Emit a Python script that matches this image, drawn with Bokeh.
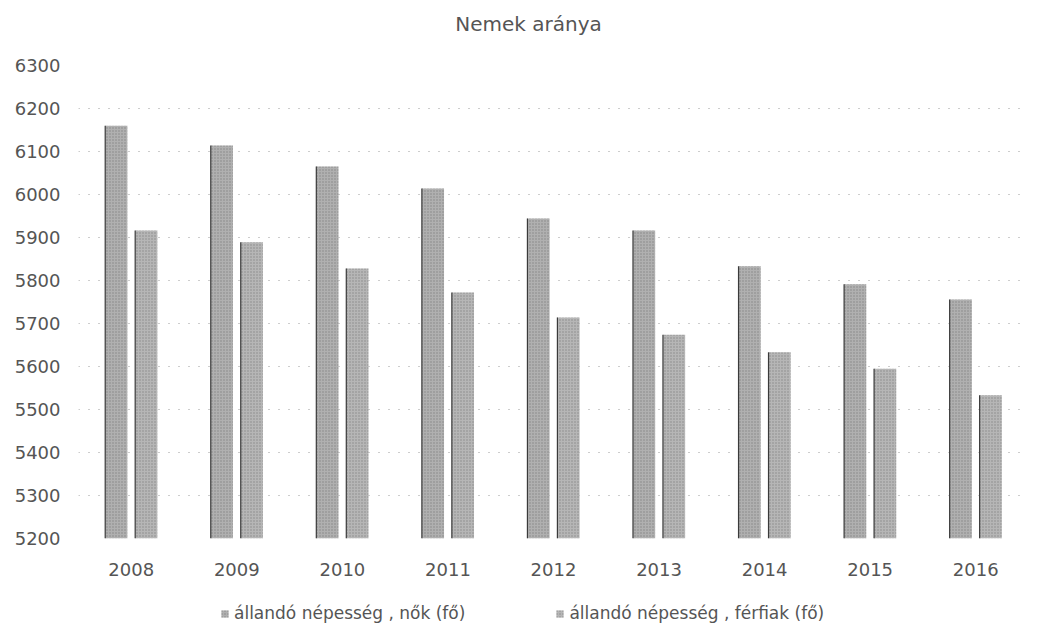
from bokeh.plotting import figure
from bokeh.models import ColumnDataSource, Legend, LegendItem, FixedTicker, Range1d, Label
from bokeh.layouts import column
from bokeh.transform import dodge
from bokeh.embed import file_html
from bokeh.resources import INLINE

years = ["2008", "2009", "2010", "2011", "2012", "2013", "2014", "2015", "2016"]
nok = [6160, 6114, 6065, 6014, 5944, 5916, 5833, 5791, 5756]
ferfiak = [5916, 5889, 5828, 5772, 5714, 5674, 5633, 5595, 5533]
y_ticks = [5200, 5300, 5400, 5500, 5600, 5700, 5800, 5900, 6000, 6100, 6200, 6300]
title_text = "Nemek aránya"
label_nok = "állandó népesség , nők (fő)"
label_ferfiak = "állandó népesség , férfiak (fő)"

src = ColumnDataSource(dict(year=years, nok=nok, ferfiak=ferfiak))

FONT = "DejaVu Sans"
TXT = "#555555"
BAR_STYLE = dict(line_color=None, hatch_pattern="dot", hatch_color="#5a5a5a",
                 hatch_scale=3, hatch_weight=1, hatch_alpha=0.5)

W = 1045
H_TITLE = 45
H_MAIN = 541
H_LEG = 46


def strip(h):
    f = figure(width=W, height=h, x_range=Range1d(0, W), y_range=Range1d(0, h),
               output_backend="svg", toolbar_location=None,
               x_axis_location=None, y_axis_location=None,
               min_border_left=0, min_border_right=0, min_border_top=0, min_border_bottom=0)
    f.grid.visible = False
    f.outline_line_color = None
    return f


# ---- title strip
t = strip(H_TITLE)
t.add_layout(Label(x=495, y=H_TITLE - 23, text=title_text, text_align="center", text_baseline="middle",
                   text_font=FONT, text_font_size="20px", text_color=TXT))

# ---- main chart
p = figure(x_range=years, y_range=(y_ticks[0], y_ticks[-1]), width=W, height=H_MAIN,
           output_backend="svg", toolbar_location=None,
           min_border_left=78, min_border_right=17, min_border_top=20, min_border_bottom=48)

bar_w = 0.21
off = 0.142
p.vbar(x=dodge("year", -off, range=p.x_range), top="nok", bottom=y_ticks[0], width=bar_w,
       source=src, fill_color="#b0b0b0", **BAR_STYLE)
p.vbar(x=dodge("year", off, range=p.x_range), top="ferfiak", bottom=y_ticks[0], width=bar_w,
       source=src, fill_color="#b6b6b6", **BAR_STYLE)

# darker left edges of bars
p.segment(x0=dodge("year", -off - bar_w / 2, range=p.x_range), x1=dodge("year", -off - bar_w / 2, range=p.x_range),
          y0=y_ticks[0], y1="nok", source=src, line_color="#3a3a3a", line_width=1.2)
p.segment(x0=dodge("year", off - bar_w / 2, range=p.x_range), x1=dodge("year", off - bar_w / 2, range=p.x_range),
          y0=y_ticks[0], y1="ferfiak", source=src, line_color="#3a3a3a", line_width=1.2)

p.yaxis.ticker = FixedTicker(ticks=y_ticks)
for ax in (p.xaxis, p.yaxis):
    ax.axis_line_color = None
    ax.major_tick_line_color = None
    ax.minor_tick_line_color = None
    ax.major_tick_out = 0
    ax.major_tick_in = 0
    ax.minor_tick_out = 0
    ax.major_label_text_font = FONT
    ax.major_label_text_font_size = "18px"
    ax.major_label_text_color = TXT
p.yaxis.major_label_standoff = 18
p.xaxis.major_label_standoff = 24

p.xgrid.grid_line_color = None
p.ygrid.grid_line_color = "#9a9a9a"
p.ygrid.grid_line_dash = "1 9"
p.ygrid.grid_line_width = 1
p.outline_line_color = None
p.x_range.range_padding = 0

# ---- legend strip
q = strip(H_LEG)
g1 = q.vbar(x=0, top=0, width=0, source=src, fill_color="#b0b0b0", **BAR_STYLE)
g2 = q.vbar(x=0, top=0, width=0, source=src, fill_color="#b6b6b6", **BAR_STYLE)

legend = Legend(items=[LegendItem(label=label_nok, renderers=[g1]),
                       LegendItem(label=label_ferfiak, renderers=[g2])],
                orientation="horizontal", location=(142, 9))
legend.label_text_font = FONT
legend.label_text_font_size = "17px"
legend.label_text_color = TXT
legend.glyph_width = 9
legend.glyph_height = 9
legend.label_standoff = 5
legend.label_height = 18
legend.spacing = 90
legend.padding = 0
legend.margin = 0
legend.border_line_color = None
legend.background_fill_alpha = 0
q.add_layout(legend)

layout = column(t, p, q, spacing=0)
open("out.html", "w").write(file_html(layout, INLINE))
